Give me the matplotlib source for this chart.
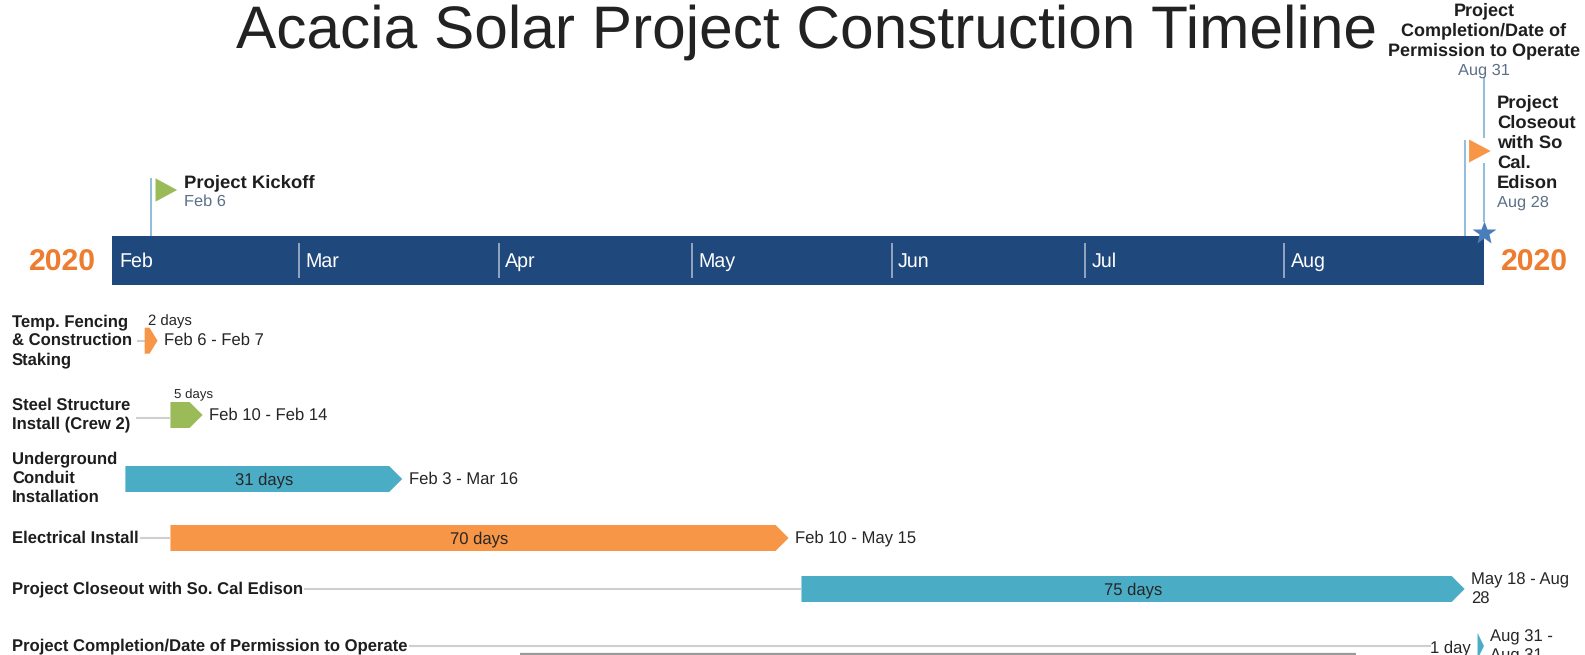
from datetime import date, timedelta
import matplotlib
matplotlib.use("Agg")
import matplotlib.pyplot as plt
import matplotlib.dates as mdates
from matplotlib.patches import Polygon

plt.rcParams['font.family'] = ['Liberation Sans', 'DejaVu Sans']
plt.rcParams['text.hinting'] = 'no_hinting'
plt.rcParams['text.hinting_factor'] = 8
plt.rcParams['text.kerning_factor'] = 0

# ---- data ----
title = "Acacia Solar Project Construction Timeline"
year_label = "2020"
months = ["Feb", "Mar", "Apr", "May", "Jun", "Jul", "Aug"]
month_starts = ["2020-02-01", "2020-03-01", "2020-04-01", "2020-05-01",
                "2020-06-01", "2020-07-01", "2020-08-01"]
axis_end = "2020-09-01"

task_names = ["Temp. Fencing\n& Construction\nStaking", "Steel Structure\nInstall (Crew 2)",
              "Underground\nConduit\nInstallation", "Electrical Install",
              "Project Closeout with So. Cal Edison",
              "Project Completion/Date of Permission to Operate"]
task_starts = ["2020-02-06", "2020-02-10", "2020-02-03", "2020-02-10", "2020-05-18", "2020-08-31"]
task_ends = ["2020-02-07", "2020-02-14", "2020-03-16", "2020-05-15", "2020-08-28", "2020-08-31"]
task_days = ["2 days", "5 days", "31 days", "70 days", "75 days", "1 day"]
task_dates = ["Feb 6 - Feb 7", "Feb 10 - Feb 14", "Feb 3 - Mar 16", "Feb 10 - May 15",
              "May 18 - Aug\n28", "Aug 31 -\nAug 31"]
task_colors = ["#F79646", "#9BBB59", "#4BACC6", "#F79646", "#4BACC6", "#4BACC6"]

milestone_names = ["Project Kickoff", "Project\nCloseout\nwith So\nCal.\nEdison",
                   "Project\nCompletion/Date of\nPermission to Operate"]
milestone_dates = ["2020-02-06", "2020-08-28", "2020-08-31"]
milestone_labels = ["Feb 6", "Aug 28", "Aug 31"]

# ---- layout ----
W, H = 1585, 655
BAND_L, BAND_R = 112.5, 1484
BAND_T, BAND_B = 235.7, 284.7
row_y = [340.7, 415, 479, 538, 589, 646]
label_y = [340.8, 414.5, 478.5, 538, 589, 646]
conn_start = [137, 136, 125, 140, 304, 409]
conn_end = [None, None, None, None, None, 1431]
BAR_H = 26
tips = [8, 13, 13, 13, 13, 6.4]
DARK = "#262626"
SUB = "#5B7089"
LINE = "#95BEDD"
CONN = "#CFCFCF"
YEAR = "#ED7D31"


def num(s):
    return mdates.date2num(date.fromisoformat(s))


def day_after(s):
    return mdates.date2num(date.fromisoformat(s) + timedelta(days=1))


x0 = num(month_starts[0])
x1 = num(axis_end)
ppd = (BAND_R - BAND_L) / (x1 - x0)

fig = plt.figure(figsize=(W / 100, H / 100), dpi=100)
ax = fig.add_axes([0, 0, 1, 1])
ax.set_xlim(x0 - BAND_L / ppd, x0 + (W - BAND_L) / ppd)
ax.set_ylim(H, 0)
ax.axis("off")


def px(x_value, dx=0.0):
    return x_value + dx / ppd


# title
ax.text(px(x0, 806 - BAND_L), 32, title, ha="center", va="center",
        fontsize=43.5, color="#222222")

# band
ax.barh((BAND_T + BAND_B) / 2, x1 - x0, left=x0, height=BAND_B - BAND_T,
        color="#1F497D", edgecolor="none", zorder=2)
for i, (m, s) in enumerate(zip(months, month_starts)):
    if i > 0:
        ax.plot([num(s)] * 2, [243, 278], color="#A9B6C9", lw=1.2, zorder=3,
                solid_capstyle="butt")
    ax.text(px(num(s), 6.5), 259.5, m, color="white", fontsize=14.1,
            ha="left", va="center_baseline", zorder=4)
ax.text(px(x0, 62 - BAND_L), 259.5, year_label, color=YEAR, fontsize=21.7, fontweight="bold",
        ha="center", va="center_baseline")
ax.text(px(x0, 1534 - BAND_L), 259.5, year_label, color=YEAR, fontsize=21.7, fontweight="bold",
        ha="center", va="center_baseline")

# milestones
m_kick, m_close, m_done = [day_after(d) for d in milestone_dates]
ax.plot([m_kick] * 2, [178, BAND_T], color=LINE, lw=1.5, zorder=1, solid_capstyle="butt")
ax.add_patch(Polygon([(px(m_kick, 4.4), 178.3), (px(m_kick, 26), 190), (px(m_kick, 4.4), 201.7)],
                     closed=True, color="#9BBB59", lw=0, zorder=3))
ax.text(px(m_kick, 33), 180.5, milestone_names[0], fontsize=13.3, fontweight="bold",
        color="#1E1E1E", ha="left", va="center_baseline")
ax.text(px(m_kick, 33), 200.5, milestone_labels[0], fontsize=11.8, color=SUB,
        ha="left", va="center_baseline")

ax.plot([m_close] * 2, [139.5, BAND_T], color=LINE, lw=1.5, zorder=1, solid_capstyle="butt")
ax.plot([m_done] * 2, [77, 138], color=LINE, lw=1.5, zorder=1, solid_capstyle="butt")
ax.plot([m_done] * 2, [163, 222], color=LINE, lw=1.5, zorder=1, solid_capstyle="butt")
ax.add_patch(Polygon([(px(m_close, 4.4), 139.5), (px(m_close, 26), 151), (px(m_close, 4.4), 162.5)],
                     closed=True, color="#F79646", lw=0, zorder=3))
ax.text(px(m_close, 32.5), 143, milestone_names[1], fontsize=13.2, fontweight="bold",
        color="#1E1E1E", ha="left", va="center", linespacing=1.25)
ax.text(px(m_close, 32.5), 201, milestone_labels[1], fontsize=11.8, color=SUB,
        ha="left", va="center_baseline")
ax.plot([m_done], [233], marker="*", ms=18, color="#4A7EBB", mec="none", zorder=5)
ax.text(px(m_done, 0), 31, milestone_names[2], fontsize=13, fontweight="bold",
        color="#1E1E1E", ha="center", va="center", linespacing=1.25)
ax.text(px(m_done, 0), 68.5, milestone_labels[2], fontsize=11.8, color=SUB,
        ha="center", va="center_baseline")

# tasks
for i, name in enumerate(task_names):
    y = row_y[i]
    s = num(task_starts[i])
    e = day_after(task_ends[i])
    conn_x = x0 + (conn_start[i] - BAND_L) / ppd
    conn_to = s if conn_end[i] is None else x0 + (conn_end[i] - BAND_L) / ppd
    if conn_x < conn_to:
        ax.plot([conn_x, conn_to], [y if i != 1 else 418, y if i != 1 else 418],
                color=CONN, lw=1.5, zorder=1, solid_capstyle="butt")
    neck = px(e, -tips[i])
    top, bot = y - BAR_H / 2, y + BAR_H / 2
    ax.add_patch(Polygon([(s, top), (neck, top), (e, y), (neck, bot), (s, bot)],
                         closed=True, color=task_colors[i], lw=0, zorder=2))
    ax.text(px(x0, 12 - BAND_L), label_y[i], name, fontsize=12, fontweight="bold",
            color="#1E1E1E", ha="left", va="center", linespacing=1.26, zorder=3)
    ax.text(px(e, 6.5), y + (1 if i == 4 else 0.5 if i == 5 else 0), task_dates[i], fontsize=12,
            color=DARK, ha="left", va="center", linespacing=1.27)

# duration labels
ax.text(px(num(task_starts[0]), 3), 319.5, task_days[0], fontsize=10.7, color=DARK,
        ha="left", va="center_baseline")
ax.text(px(num(task_starts[1]), 4), 394, task_days[1], fontsize=9.5, color=DARK,
        ha="left", va="center_baseline")
for i in (2, 3, 4):
    mid = (num(task_starts[i]) + day_after(task_ends[i])) / 2
    ax.text(mid, row_y[i] - 1, task_days[i], fontsize=12, color=DARK,
            ha="center", va="center_baseline", zorder=3)
ax.text(px(num(task_starts[5]), -6.5), 646, task_days[5], fontsize=12, color=DARK,
        ha="right", va="center_baseline", zorder=3)

# partial table rule at the bottom edge
ax.plot([x0 + (520 - BAND_L) / ppd, x0 + (1356 - BAND_L) / ppd], [654, 654],
        color="#9A9A9A", lw=1.6, solid_capstyle="butt")

fig.savefig("out.png", dpi=100, facecolor="white")
